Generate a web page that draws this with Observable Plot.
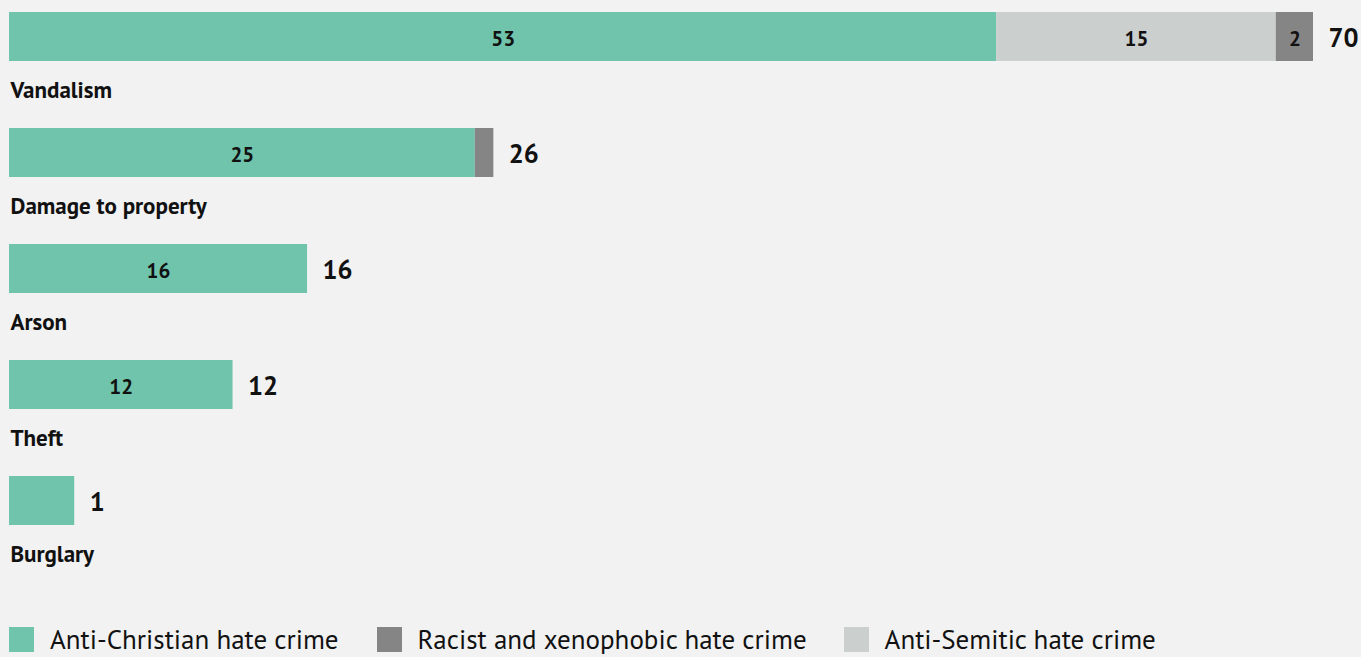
<!DOCTYPE html>
<html>
<head>
<meta charset="utf-8">
<script src="https://cdn.jsdelivr.net/npm/d3@7"></script>
<script src="https://cdn.jsdelivr.net/npm/@observablehq/plot@0.6"></script>
<style>
  html, body { margin: 0; padding: 0; background: #f2f2f2; }
  body { width: 1361px; height: 657px; overflow: hidden; font-family: "PT Sans", Lato, "Noto Sans", sans-serif; }
  #chart svg { display: block; background: #f2f2f2; }
  .legend { display: flex; align-items: center; margin-top: 43px; padding-left: 9px; font-size: 27px; line-height: 32px; color: #111; }
  .legend .item { display: flex; align-items: center; }
  .legend .sw { width: 25px; height: 25px; margin-right: 16px; }
</style>
</head>
<body>
<div id="chart"></div>
<div class="legend" id="legend"></div>
<script>
const categories = ["Vandalism", "Damage to property", "Arson", "Theft", "Burglary"];
const groups = ["Anti-Christian hate crime", "Racist and xenophobic hate crime", "Anti-Semitic hate crime"];
const stackOrder = ["Anti-Christian hate crime", "Anti-Semitic hate crime", "Racist and xenophobic hate crime"];
const colors = ["#6fc4ab", "#858585", "#cbcfce"];
const antiChristian = [53, 25, 16, 12, 1];
const racist = [2, 1, 0, 0, 0];
const antiSemitic = [15, 0, 0, 0, 0];
const minBarUnits = 3.5; // smallest drawn bar length (in value units)

const seriesByGroup = {
  "Anti-Christian hate crime": antiChristian,
  "Racist and xenophobic hate crime": racist,
  "Anti-Semitic hate crime": antiSemitic
};

const rows = [];
categories.forEach((c, i) => {
  stackOrder.forEach(g => {
    const v = seriesByGroup[g][i];
    if (v > 0) rows.push({category: c, group: g, value: v});
  });
});
const totals = categories.map((c, i) => {
  const t = antiChristian[i] + racist[i] + antiSemitic[i];
  return {category: c, total: t, shown: Math.max(t, minBarUnits)};
});
rows.forEach(r => {
  const t = totals.find(d => d.category === r.category);
  r.shown = t.total < minBarUnits ? r.value * t.shown / t.total : r.value;
});

const font = '"PT Sans", Lato, "Noto Sans", sans-serif';
const chart = Plot.plot({
  width: 1361,
  height: 580,
  marginLeft: 9,
  marginRight: 48,
  marginTop: 12,
  marginBottom: 53,
  style: {background: "#f2f2f2", fontFamily: font},
  x: {domain: [0, 70], axis: null},
  y: {domain: categories, axis: null, paddingInner: 0.58, paddingOuter: 0, align: 0},
  color: {domain: groups, range: colors},
  marks: [
    Plot.barX(rows, Plot.stackX({x: "shown", y: "category", fill: "group", z: "group", order: stackOrder})),
    Plot.text(rows.filter(d => d.value >= 2), Plot.stackX({
      x: "shown", y: "category", z: "group", order: stackOrder, text: d => String(d.value),
      fill: "#111", fontSize: 21, fontWeight: "bold", dy: 2
    })),
    Plot.text(totals, {x: "shown", y: "category", text: d => String(d.total), textAnchor: "start", dx: 15, dy: 2,
      fill: "#111", fontSize: 26.5, fontWeight: "bold"}),
    Plot.text(totals, {x: 0, y: "category", text: "category", textAnchor: "start", dx: 1, dy: 54,
      fill: "#111", fontSize: 23, fontWeight: "bold"})
  ]
});
document.getElementById("chart").appendChild(chart);

const legend = document.getElementById("legend");
const gaps = [38, 37, 0];
groups.forEach((g, i) => {
  const item = document.createElement("div");
  item.className = "item";
  item.style.marginRight = gaps[i] + "px";
  const sw = document.createElement("div");
  sw.className = "sw";
  sw.style.background = colors[i];
  const lab = document.createElement("span");
  lab.textContent = g;
  item.appendChild(sw);
  item.appendChild(lab);
  legend.appendChild(item);
});
</script>
</body>
</html>
